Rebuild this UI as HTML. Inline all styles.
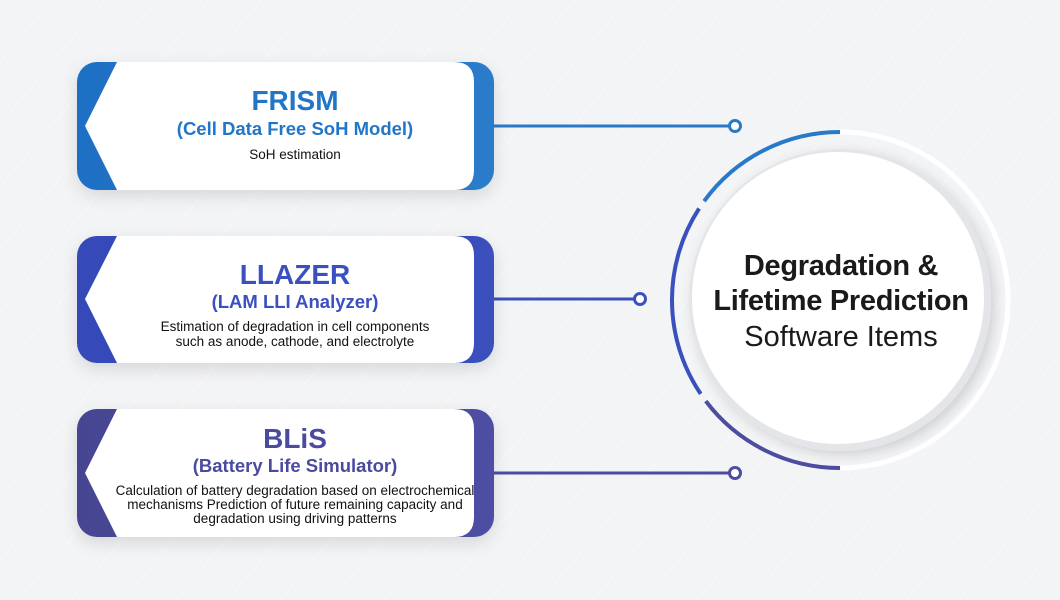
<!DOCTYPE html>
<html><head><meta charset="utf-8"><style>
html,body{margin:0;padding:0;background:#f3f4f6;}
svg{display:block;font-family:"Liberation Sans",sans-serif;}
</style></head><body>
<svg width="1060" height="600" viewBox="0 0 1060 600" xmlns="http://www.w3.org/2000/svg">
<defs>
<pattern id="diag" width="40" height="40" patternUnits="userSpaceOnUse" patternTransform="rotate(40)">
<line x1="0" y1="0" x2="0" y2="40" stroke="#ffffff" stroke-width="1" opacity="0.8"/>
</pattern>
<filter id="sh" x="-20%" y="-30%" width="140%" height="160%"><feDropShadow dx="0" dy="6" stdDeviation="8" flood-color="#000" flood-opacity="0.12"/></filter>
<filter id="csh" x="-20%" y="-20%" width="140%" height="140%"><feDropShadow dx="4" dy="4" stdDeviation="6" flood-color="#000" flood-opacity="0.15"/></filter>
<linearGradient id="g1" x1="0" x2="1"><stop offset="0" stop-color="#1f6fc4"/><stop offset="1" stop-color="#2a7ccb"/></linearGradient>
<linearGradient id="g2" x1="0" x2="1"><stop offset="0" stop-color="#3549b8"/><stop offset="1" stop-color="#3a50bd"/></linearGradient>
<linearGradient id="g3" x1="0" x2="1"><stop offset="0" stop-color="#464592"/><stop offset="1" stop-color="#4e4fa3"/></linearGradient>
</defs>
<rect width="1060" height="600" fill="#f3f4f6"/>
<rect width="1060" height="600" fill="url(#diag)"/>

<g stroke-width="3" fill="#fff">
<line x1="494" y1="126" x2="730" y2="126" stroke="#2a79c9"/>
<circle cx="735" cy="126" r="5.5" stroke="#2a79c9"/>
<line x1="494" y1="299" x2="635" y2="299" stroke="#3a50bd"/>
<circle cx="640" cy="299" r="5.5" stroke="#3a50bd"/>
<line x1="494" y1="473" x2="730" y2="473" stroke="#4c4ca0"/>
<circle cx="735" cy="473" r="5.5" stroke="#4c4ca0"/>
</g>

<g filter="url(#sh)">
<rect x="77" y="62" width="417" height="128" rx="20" fill="url(#g1)"/>
<path d="M117,62 L454,62 Q474,62 474,82 L474,170 Q474,190 454,190 L117,190 L85,126 Z" fill="#fff"/>
</g>
<g filter="url(#sh)">
<rect x="77" y="236" width="417" height="127" rx="20" fill="url(#g2)"/>
<path d="M117,236 L454,236 Q474,236 474,256 L474,343 Q474,363 454,363 L117,363 L85,299 Z" fill="#fff"/>
</g>
<g filter="url(#sh)">
<rect x="77" y="409" width="417" height="128" rx="20" fill="url(#g3)"/>
<path d="M117,409 L454,409 Q474,409 474,429 L474,517 Q474,537 454,537 L117,537 L85,473 Z" fill="#fff"/>
</g>

<g text-anchor="middle">
<text x="295" y="110" font-size="28" font-weight="bold" fill="#2176c7">FRISM</text>
<text x="295" y="135" font-size="18.5" font-weight="bold" fill="#2176c7">(Cell Data Free SoH Model)</text>
<text x="295" y="159" font-size="13.5" fill="#111">SoH estimation</text>

<text x="295" y="284" font-size="28" font-weight="bold" fill="#3a4fc0">LLAZER</text>
<text x="295" y="308" font-size="18.5" font-weight="bold" fill="#3a4fc0">(LAM LLI Analyzer)</text>
<text x="295" y="331" font-size="13.5" fill="#111">Estimation of degradation in cell components</text>
<text x="295" y="346" font-size="13.5" fill="#111">such as anode, cathode, and electrolyte</text>

<text x="295" y="448" font-size="28" font-weight="bold" fill="#4a4a9e">BLiS</text>
<text x="295" y="472" font-size="18.5" font-weight="bold" fill="#4a4a9e">(Battery Life Simulator)</text>
<text x="295" y="495" font-size="13.5" fill="#111">Calculation of battery degradation based on electrochemical</text>
<text x="295" y="509" font-size="13.5" fill="#111">mechanisms Prediction of future remaining capacity and</text>
<text x="295" y="523" font-size="13.5" fill="#111">degradation using driving patterns</text>
</g>

<path d="M840,468 A168,168 0 0 0 840,132" fill="none" stroke="#fff" stroke-width="5"/>
<path d="M840,132 A168,168 0 0 0 704.1,201.2" fill="none" stroke="#2a79c9" stroke-width="4"/>
<path d="M699.1,208.5 A168,168 0 0 0 700.7,393.9" fill="none" stroke="#3a50bd" stroke-width="4"/>
<path d="M705.8,401.1 A168,168 0 0 0 840,468" fill="none" stroke="#4c4ca0" stroke-width="4"/>
<circle cx="840" cy="300" r="151" fill="#e4e5e8" filter="url(#csh)"/>
<circle cx="838" cy="298" r="146" fill="#fff"/>
<g text-anchor="middle" fill="#1a1a1a">
<text x="841" y="275" font-size="29" font-weight="bold" letter-spacing="-0.3">Degradation &amp;</text>
<text x="841" y="310" font-size="29" font-weight="bold" letter-spacing="-0.3">Lifetime Prediction</text>
<text x="841" y="346" font-size="29">Software Items</text>
</g>
</svg>
</body></html>
